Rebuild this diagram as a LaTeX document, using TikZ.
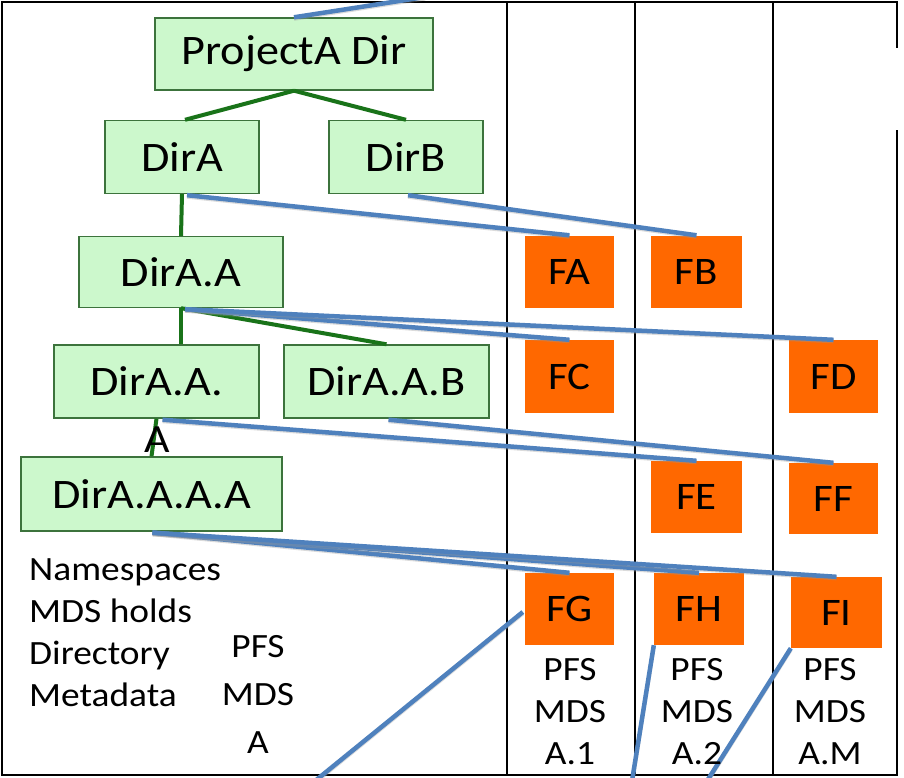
\documentclass[tikz,border=0pt]{standalone}
\usepackage{fontspec}
\setmainfont{Carlito}[FakeStretch=1.1]
\usetikzlibrary{calc}
\definecolor{gfill}{RGB}{204,248,204}
\definecolor{gborder}{RGB}{60,115,60}
\definecolor{gline}{RGB}{25,115,25}
\definecolor{bline}{RGB}{79,129,189}
\definecolor{ofill}{RGB}{255,104,0}
\tikzset{
  gbox/.style={draw=gborder, fill=gfill, line width=1.4pt, inner sep=0pt,
    font=\fontsize{42}{48}\selectfont},
  obox/.style={fill=ofill, inner sep=0pt, minimum width=89pt, minimum height=72pt,
    font=\fontsize{39}{44}\selectfont},
  smalltext/.style={inner sep=0pt, font=\fontsize{34}{42}\selectfont},
  gconn/.style={draw=gline, line width=4pt},
  bconn/.style={draw=bline, line width=4.5pt,
    preaction={draw=black!40, opacity=0.35, line width=4pt, transform canvas={yshift=-1.5pt}}},
  frameline/.style={draw=black, line width=2pt}
}
\begin{document}
\begin{tikzpicture}[x=1pt,y=-1pt]
\useasboundingbox (0,0) rectangle (904,778);
\fill[white] (0,0) rectangle (904,778);
% frame and columns
\draw[frameline] (897,48) -- (897,2) -- (2,2) -- (2,775) -- (897,775) -- (897,130);
\draw[frameline] (507,2) -- (507,775);
\draw[frameline] (635,2) -- (635,775);
\draw[frameline] (773,2) -- (773,775);
% green boxes
\node[gbox, minimum width=278pt, minimum height=72pt] (proj) at (294,54) {ProjectA Dir};
\node[gbox, minimum width=154pt, minimum height=73pt] (dira) at (182,157) {DirA};
\node[gbox, minimum width=154pt, minimum height=73pt] (dirb) at (406,157) {DirB};
\node[gbox, minimum width=204pt, minimum height=71pt] (diraa) at (181,272) {DirA.A};
\node[gbox, minimum width=205pt, minimum height=73pt] (daa) at (156.5,381.5) {DirA.A.};
\node[gbox, minimum width=205pt, minimum height=73pt] (daab) at (386.5,381.5) {DirA.A.B};
\node[gbox, minimum width=261pt, minimum height=74pt] (daaaa) at (151.5,494) {DirA.A.A.A};
% orange boxes
\node[obox] (fa) at (569.5,271.5) {FA};
\node[obox, minimum width=91pt] (fb) at (696.5,271.5) {FB};
\node[obox, minimum height=73pt] (fc) at (569.5,376.5) {FC};
\node[obox, minimum height=73pt] (fd) at (833.5,376.5) {FD};
\node[obox, minimum width=91pt] (fe) at (696.5,497) {FE};
\node[obox, minimum height=71pt] (ff) at (833.5,498.5) {FF};
\node[obox] (fg) at (569.5,609) {FG};
\node[obox, minimum width=90pt] (fh) at (699,609) {FH};
\node[obox, minimum width=91pt, minimum height=71pt] (fi) at (836.5,612.5) {FI};
% green connectors
\draw[gconn] (proj.south) -- ($(dira.north)+(3,0)$);
\draw[gconn] (proj.south) -- (dirb.north);
\draw[gconn] (dira.south) -- (diraa.north);
\draw[gconn] (diraa.south) -- (diraa.south |- daa.north);
\draw[gconn] (diraa.south) -- (daab.north);
\draw[gconn] (daa.south) -- (daaaa.north);
% overflow letter of DirA.A.
\node[inner sep=0pt, font=\fontsize{40}{48}\selectfont] (daaA) at (157,440) {A};
% free ends
\coordinate (ptop) at (425,-3);
\coordinate (bg) at (315,781);
\coordinate (bh) at (632,781);
\coordinate (bi) at (707,781);
% blue connectors
\draw[bconn] (proj.north) -- (ptop);
\draw[bconn] ($(dira.south)+(5,1)$) -- (fa.north);
\draw[bconn] ($(dirb.south)+(2,1)$) -- (fb.north);
\draw[bconn] ($(diraa.south)+(4,1)$) -- (fc.north);
\draw[bconn] ($(diraa.south)+(4,1)$) -- (fd.north);
\draw[bconn] ($(daa.south)+(6,1)$) -- (fe.north);
\draw[bconn] ($(daab.south)+(2,1)$) -- (ff.north);
\draw[bconn] ($(daaaa.south)+(1,1)$) -- (fg.north);
\draw[bconn] ($(daaaa.south)+(1,1)$) -- (fh.north);
\draw[bconn] ($(daaaa.south)+(1,1)$) -- (fi.north);
\draw[bconn] ($(fg.west)+(-2,3)$) -- (bg);
\draw[bconn] (fh.south west) -- (bh);
\draw[bconn] (fi.south west) -- (bi);
% texts
\node[smalltext, align=left, anchor=north west] (ns) at (29,558) {Namespaces\\MDS holds\\Directory\\Metadata};
\node[smalltext, align=center, anchor=north, font=\fontsize{34}{48}\selectfont] (pfsa) at (258,635) {PFS\\MDS\\A};
\node[smalltext, align=center, anchor=north, font=\fontsize{34}{42}\selectfont] (pfs1) at (570,658) {PFS\\MDS\\A.1};
\node[smalltext, align=center, anchor=north, font=\fontsize{34}{42}\selectfont] (pfs2) at (697,658) {PFS\\MDS\\A.2};
\node[smalltext, align=center, anchor=north, font=\fontsize{34}{42}\selectfont] (pfs3) at (830,658) {PFS\\MDS\\A.M};
\end{tikzpicture}
\end{document}
